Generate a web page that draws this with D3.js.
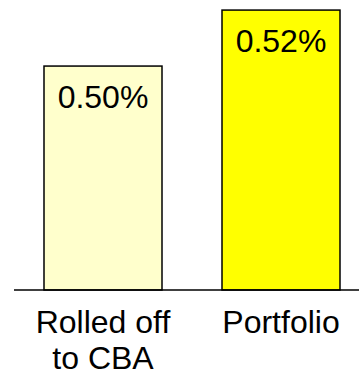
<!DOCTYPE html>
<html>
<head>
<meta charset="utf-8">
<script src="https://cdn.jsdelivr.net/npm/d3@7"></script>
<style>
  body { margin: 0; background: #fff; }
  text { font-family: Arial, "Liberation Sans", sans-serif; fill: #000; }
</style>
</head>
<body>
<div id="chart"></div>
<script>
// data
const categories = [["Rolled off", "to CBA"], ["Portfolio"]];
const values = [0.50, 0.52];
const valueLabels = ["0.50%", "0.52%"];
const colors = ["#FFFFCC", "#FFFF00"];

const width = 359, height = 372;
const baseY = 290;

const svg = d3.select("#chart")
  .append("svg")
  .attr("width", width)
  .attr("height", height);

const x = d3.scaleBand()
  .domain(d3.range(values.length))
  .range([14, 370])
  .paddingInner(60 / 178)
  .paddingOuter(30 / 178);

const y = d3.scaleLinear()
  .domain([0.42, 0.5236])
  .range([baseY, 0]);

svg.selectAll("rect.bar")
  .data(values)
  .enter()
  .append("rect")
  .attr("class", "bar")
  .attr("x", (_, i) => x(i))
  .attr("y", d => y(d))
  .attr("width", x.bandwidth())
  .attr("height", d => baseY - y(d))
  .attr("fill", (_, i) => colors[i])
  .attr("stroke", "#000")
  .attr("stroke-width", 1.5);

svg.selectAll("text.val")
  .data(values)
  .enter()
  .append("text")
  .attr("class", "val")
  .attr("x", (_, i) => x(i) + x.bandwidth() / 2)
  .attr("y", d => y(d) + 42)
  .attr("text-anchor", "middle")
  .attr("font-size", 32)
  .text((_, i) => valueLabels[i]);

// baseline
svg.append("line")
  .attr("x1", 14)
  .attr("x2", width)
  .attr("y1", baseY)
  .attr("y2", baseY)
  .attr("stroke", "#000")
  .attr("stroke-width", 1.5);

const cat = svg.selectAll("text.cat")
  .data(categories)
  .enter()
  .append("text")
  .attr("class", "cat")
  .attr("text-anchor", "middle")
  .attr("font-size", 32);

cat.selectAll("tspan")
  .data((d, i) => d.map(s => ({ s, i })))
  .enter()
  .append("tspan")
  .attr("x", d => x(d.i) + x.bandwidth() / 2)
  .attr("y", (_, j) => 333 + j * 36)
  .text(d => d.s);
</script>
</body>
</html>
